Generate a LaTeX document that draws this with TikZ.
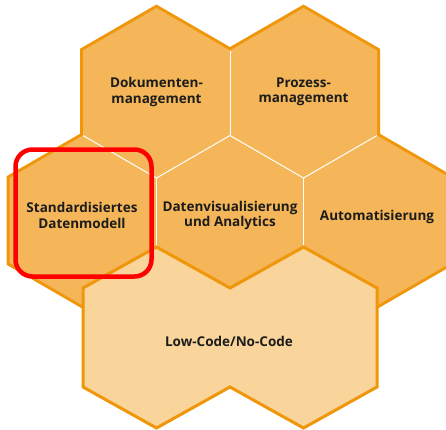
\documentclass[tikz,border=0pt]{standalone}
\usepackage{fontspec}
\setmainfont{Open Sans}
\usepackage{xcolor}
\definecolor{honey}{RGB}{244,182,88}
\definecolor{honeyrim}{RGB}{239,150,10}
\definecolor{honeylight}{RGB}{249,212,155}
\definecolor{inkdark}{RGB}{28,28,28}
\newcommand{\hexcell}[2]% center x, center y
{(#1,#2) +(0,-85) -- +(73.5,-42.5) -- +(73.5,42.5) -- +(0,85) -- +(-73.5,42.5) -- +(-73.5,-42.5) -- cycle
}

\begin{document}
\begin{tikzpicture}[x=1pt,y=-1pt,
  cell/.style={fill=honey,draw=honeyrim,line width=6},
  seam/.style={draw=white,line width=1},
  celltext/.style={align=center,text=inkdark,font=\fontsize{13.5}{15.5}\selectfont\bfseries},
  highlight/.style={draw=red,line width=4.5,rounded corners=17,minimum width=136,minimum height=127}]
  \useasboundingbox (0,0) rectangle (446,429);
  \clip (0,0) rectangle (446,429);
  % outer rim, then fill over the inner half
  \draw[cell] \hexcell{156.5}{93};
  \draw[cell] \hexcell{303.5}{93};
  \draw[cell] \hexcell{83}{220.5};
  \draw[cell] \hexcell{230}{220.5};
  \draw[cell] \hexcell{377}{220.5};
  \fill[honey] \hexcell{156.5}{93};
  \fill[honey] \hexcell{303.5}{93};
  \fill[honey] \hexcell{83}{220.5};
  \fill[honey] \hexcell{230}{220.5};
  \fill[honey] \hexcell{377}{220.5};
  % white seams between the cells
  \draw[seam] (230,50.5) -- (230,135.5);
  \draw[seam] (83,135.5) -- (156.5,178) -- (230,135.5) -- (303.5,178) -- (377,135.5);
  \draw[seam] (156.5,178) -- (156.5,262);
  \draw[seam] (303.5,178) -- (303.5,262);
  % base cell
  \draw[fill=honeylight,draw=honeyrim,line width=3]
    (83,288) -- (156.5,247) -- (230,288) -- (303.5,247) -- (377,288) -- (377,387)
    -- (303.5,428) -- (230,387) -- (156.5,428) -- (83,387) -- cycle;
  \node[highlight] (focus) at (83.5,213) {};
  \node[celltext] (dokument) at (156.5,92) {Dokumenten-\\management};
  \node[celltext] (prozess) at (303.5,92) {Prozess-\\management};
  \node[celltext] (datenmodell) at (82,215.5) {Standardisiertes\\Datenmodell};
  \node[celltext] (analytics) at (230,215.5) {Datenvisualisierung\\und Analytics};
  \node[celltext] (automat) at (377,217) {Automatisierung};
  \node[celltext] (lowcode) at (229,341) {Low-Code/No-Code};
\end{tikzpicture}
\end{document}
